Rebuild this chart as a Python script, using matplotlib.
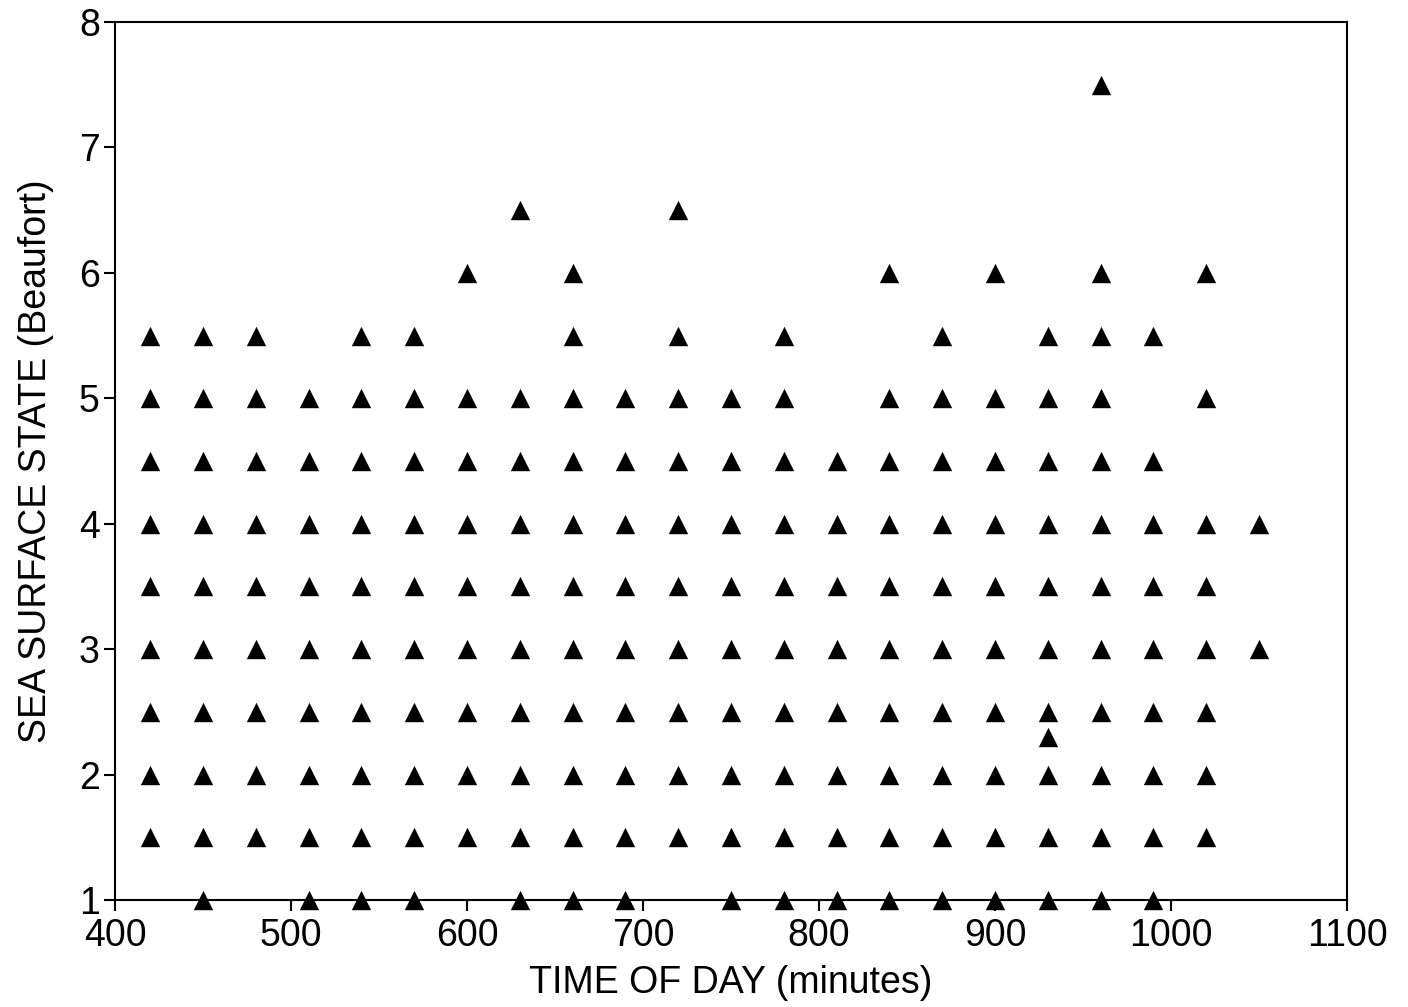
import matplotlib
matplotlib.use("Agg")
import matplotlib.pyplot as plt

plt.rcParams['font.family'] = ['Liberation Sans', 'DejaVu Sans']

# Column times (minutes) and observed sea states at each
times = [420, 450, 480, 510, 540, 570, 600, 630, 660, 690, 720,
         750, 780, 810, 840, 870, 900, 930, 960, 990, 1020, 1050]
base = [1.5, 2, 2.5, 3, 3.5, 4, 4.5, 5]
states = {
    420: base + [5.5],
    450: [1] + base + [5.5],
    480: base + [5.5],
    510: [1] + base,
    540: [1] + base + [5.5],
    570: [1] + base + [5.5],
    600: base + [6],
    630: [1] + base + [6.5],
    660: [1] + base + [5.5, 6],
    690: [1] + base,
    720: base + [5.5, 6.5],
    750: [1] + base,
    780: [1] + base + [5.5],
    810: [1, 1.5, 2, 2.5, 3, 3.5, 4, 4.5],
    840: [1] + base + [6],
    870: [1] + base + [5.5],
    900: [1] + base + [6],
    930: [1, 1.5, 2, 2.3, 2.5, 3, 3.5, 4, 4.5, 5, 5.5],
    960: [1] + base + [5.5, 6, 7.5],
    990: [1, 1.5, 2, 2.5, 3, 3.5, 4, 4.5, 5.5],
    1020: [1.5, 2, 2.5, 3, 3.5, 4, 5, 6],
    1050: [3, 4],
}

xs, ys = [], []
for t in times:
    for v in states[t]:
        xs.append(t)
        ys.append(v)

xticks = [400, 500, 600, 700, 800, 900, 1000, 1100]
yticks = [1, 2, 3, 4, 5, 6, 7, 8]

fig = plt.figure(figsize=(14.08, 10.07), dpi=100)
ax = fig.add_axes([0.0817, 0.1063, 0.875, 0.8719])
ax.scatter(xs, ys, marker='^', s=195, color='black', linewidths=0, clip_on=False, zorder=3)
ax.set_xlim(400, 1100)
ax.set_ylim(1, 8)
ax.set_xticks(xticks)
ax.set_yticks(yticks)
ax.tick_params(axis='both', direction='out', length=8, width=1.5, labelsize=27)
ax.tick_params(axis='x', pad=5)
ax.tick_params(axis='y', pad=3)
for s in ax.spines.values():
    s.set_linewidth(1.5)
ax.set_xlabel('TIME OF DAY (minutes)', fontsize=27, labelpad=8)
ax.set_ylabel('SEA SURFACE STATE (Beaufort)', fontsize=27, labelpad=18)
fig.savefig('out.png', dpi=100)
